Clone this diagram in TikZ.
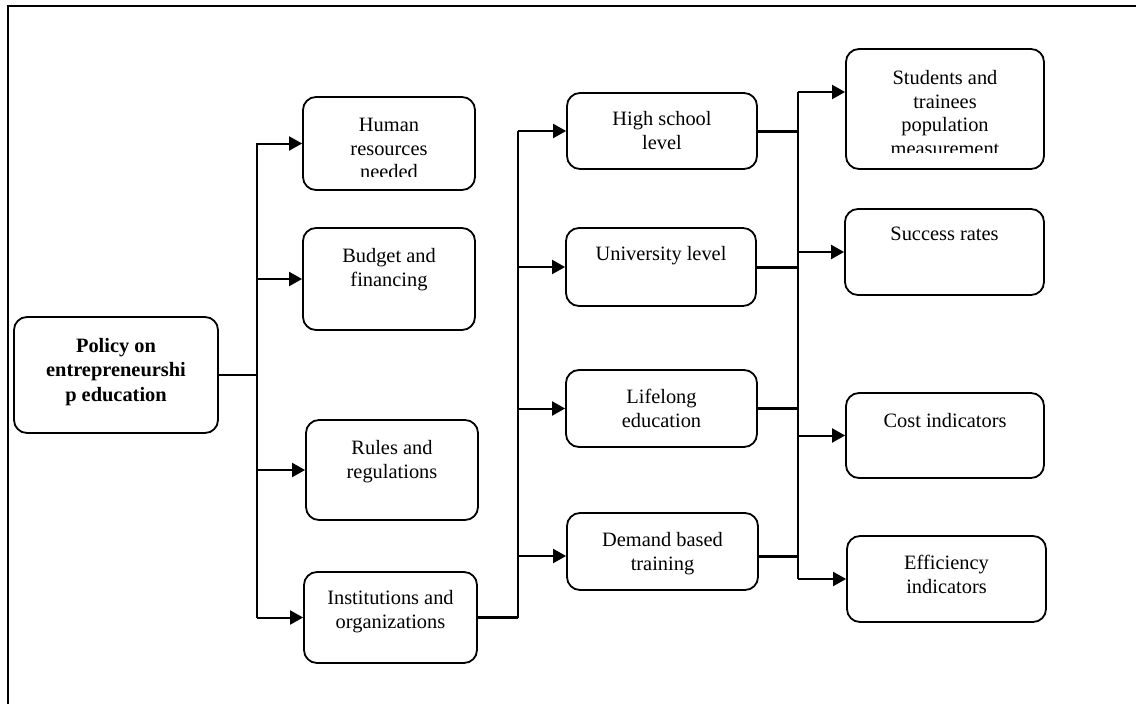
\documentclass[tikz,border=0pt]{standalone}
\usepackage{fontspec}
\setmainfont{Liberation Serif}
\usetikzlibrary{arrows.meta,calc}
\begin{document}
\begin{tikzpicture}[x=1pt,y=-1pt,
  box/.style={draw, line width=1.8pt, rounded corners=13pt, inner sep=0pt, minimum width=#1},
  box/.default=172pt,
  lbl/.style={anchor=north, inner sep=0pt, align=center, font=\fontsize{20.4}{23.6}\selectfont},
  conn/.style={line width=2pt},
  thick conn/.style={line width=3pt},
  arr/.style={line width=2pt, -{Triangle[length=13pt,width=14pt]}},
  frame/.style={line width=1.8pt}]
\useasboundingbox (0,0) rectangle (1136,704);
% outer frame (right and bottom edges outside the picture)
\draw[frame] (8,704) -- (8,6) -- (1136,6);

% boxes
\node[box=204pt, minimum height=116pt] (policy) at (116,375) {};
\node[box, minimum height=93pt]  (human) at (389,143.5) {};
\node[box, minimum height=102pt] (budget) at (389,279) {};
\node[box, minimum height=100pt] (rules) at (392,470) {};
\node[box=173pt, minimum height=91pt] (inst) at (390.5,617.5) {};
\node[box=190pt, minimum height=76pt] (high) at (662,131) {};
\node[box=190pt, minimum height=78pt] (univ) at (661,267) {};
\node[box=191pt, minimum height=77pt] (life) at (661.5,408.5) {};
\node[box=191pt, minimum height=77pt] (demand) at (662.5,551.5) {};
\node[box=198pt, minimum height=120pt] (stud) at (945,109) {};
\node[box=199pt, minimum height=86pt] (succ) at (944.5,252) {};
\node[box=198pt, minimum height=85pt] (cost) at (945,435.5) {};
\node[box=199pt, minimum height=86pt] (eff) at (946.5,579) {};

% labels
\node[lbl, font=\fontsize{20.4}{24.4}\selectfont\bfseries] (policyt) at ([yshift=-22pt]policy.north) {Policy on\\entrepreneurshi\\p education};
\begin{scope}
\clip (300,95) rectangle (478,176);
\node[lbl] (humant) at ([yshift=-22pt]human.north) {Human\\resources\\needed};
\end{scope}
\node[lbl] (budgett) at ([yshift=-21pt]budget.north) {Budget and\\financing};
\node[lbl] (rulest) at ([yshift=-21pt]rules.north) {Rules and\\regulations};
\node[lbl] (instt) at ([yshift=-19pt]inst.north) {Institutions and\\organizations};
\node[lbl] (hight) at ([yshift=-19pt]high.north) {High school\\level};
\node[lbl] (univt) at ([yshift=-19pt]univ.north) {University level};
\node[lbl] (lifet) at ([yshift=-20pt]life.north) {Lifelong\\education};
\node[lbl] (demandt) at ([yshift=-20pt]demand.north) {Demand based\\training};
\begin{scope}
\clip (843,47) rectangle (1047,152.5);
\node[lbl] (studt) at ([yshift=-22pt]stud.north) {Students and\\trainees\\population\\measurement};
\end{scope}
\node[lbl] (succt) at ([yshift=-19pt]succ.north) {Success rates};
\node[lbl] (costt) at ([yshift=-21pt]cost.north) {Cost indicators};
\node[lbl] (efft) at ([yshift=-20pt]eff.north) {Efficiency\\indicators};

% junction coordinates
\coordinate (a1) at (257,143);
\coordinate (a2) at (257,618);
\coordinate (b1) at (518,131);
\coordinate (b2) at (518,618);
\coordinate (c1) at (798,92);
\coordinate (c2) at (798,579);

% first fan
\draw[conn] (policy.east) -- (policy.east -| a1);
\draw[conn] (a1) -- (a2);
\draw[arr] (human.west -| a1) -- (human.west);
\draw[arr] (budget.west -| a1) -- (budget.west);
\draw[arr] (rules.west -| a1) -- (rules.west);
\draw[arr] (inst.west -| a1) -- (inst.west);

% second fan
\draw[thick conn] (inst.east) -- (inst.east -| b2);
\draw[conn] (b2) -- (b1);
\draw[arr] (high.west -| b1) -- (high.west);
\draw[arr] (univ.west -| b1) -- (univ.west);
\draw[arr] (life.west -| b1) -- (life.west);
\draw[arr] ([yshift=-4.5pt]demand.west -| b1) -- ([yshift=-4.5pt]demand.west);

% third fan
\draw[thick conn] (high.east) -- (high.east -| c1);
\draw[thick conn] (univ.east) -- (univ.east -| c1);
\draw[thick conn] (life.east) -- (life.east -| c1);
\draw[thick conn] ([yshift=-4.5pt]demand.east) -- ([yshift=-4.5pt]demand.east -| c1);
\draw[conn] (c1) -- (c2);
\draw[arr] (c1) -- (c1 -| stud.west);
\draw[arr] (succ.west -| c1) -- (succ.west);
\draw[arr] (cost.west -| c1) -- (cost.west);
\draw[arr] (eff.west -| c1) -- (eff.west);
\end{tikzpicture}
\end{document}
